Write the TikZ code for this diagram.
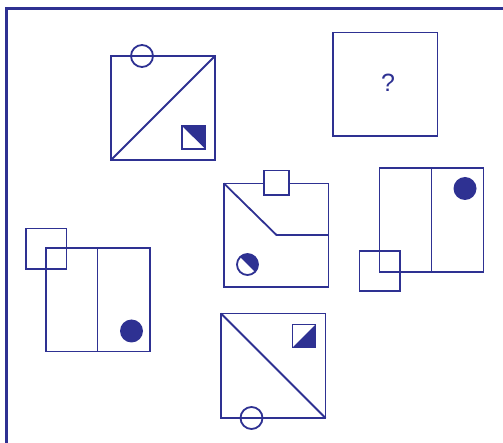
\documentclass[tikz,border=0pt]{standalone}
\usepackage{fontspec}
\setmainfont{Liberation Sans}
\definecolor{cblue}{HTML}{2E3192}

\begin{document}
\begin{tikzpicture}[
  x=1pt, y=-1pt,
  outline/.style={draw=cblue, line width=1.8pt},
  frameline/.style={draw=cblue, line width=2.4pt},
  solid fill/.style={fill=cblue}
]
\useasboundingbox (0,0) rectangle (503,443);

% ============================================================
% outer frame (runs off the right and bottom)
% ============================================================
\draw[frameline] (6.5,450) -- (6.5,8.5) -- (510,8.5);

% ============================================================
% top-left: square, diagonal, circle, half square
% ============================================================
\draw[outline] (111,56) rectangle (215,160);
\draw[outline] (111,160) -- (215,56);
\draw[outline] (142,56) circle (11);
\fill[solid fill] (182,126) -- (205.5,126) -- (205.5,149) -- cycle;
\draw[outline] (182,126) rectangle (205.5,149);

% ============================================================
% the unknown
% ============================================================
\draw[outline] (333,32.5) rectangle (437.5,136);
\node[cblue, font=\fontsize{25}{27}\selectfont] (qmark) at (388,83) {?};

% ============================================================
% middle: square, bent line, little square, half circle
% ============================================================
\draw[outline] (224,183.5) rectangle (328.5,287);
\draw[outline] (224,183.5) -- (276.5,235) -- (328.5,235);
\draw[outline, fill=white] (264,170.5) rectangle (289,195);
\begin{scope}
  \clip (236,253) -- (259,253) -- (259,276) -- cycle;
  \fill[solid fill] (247.5,264.5) circle (10.5);
\end{scope}
\draw[outline] (247.5,264.5) circle (10.5);

% ============================================================
% right: split rectangle, dot, little square
% ============================================================
\draw[outline] (379.5,168) rectangle (483.5,272);
\draw[outline] (431.5,168) -- (431.5,272);
\fill[solid fill] (465,188.5) circle (11.5);
\draw[outline] (359.5,251) rectangle (400,291);

% ============================================================
% left: split rectangle, dot, little square
% ============================================================
\draw[outline] (46,248) rectangle (150,351.5);
\draw[outline] (97.5,248) -- (97.5,351.5);
\fill[solid fill] (131.5,331) circle (11.5);
\draw[outline] (26,228.5) rectangle (66.5,269);

% ============================================================
% bottom: square, diagonal, circle, half square
% ============================================================
\draw[outline] (221,313.5) rectangle (325.5,418);
\draw[outline] (221,313.5) -- (325.5,418);
\draw[outline] (251.5,418) circle (11);
\fill[solid fill] (315.5,324.5) -- (315.5,347.5) -- (292.5,347.5) -- cycle;
\draw[outline] (292.5,324.5) rectangle (315.5,347.5);

\end{tikzpicture}
\end{document}
